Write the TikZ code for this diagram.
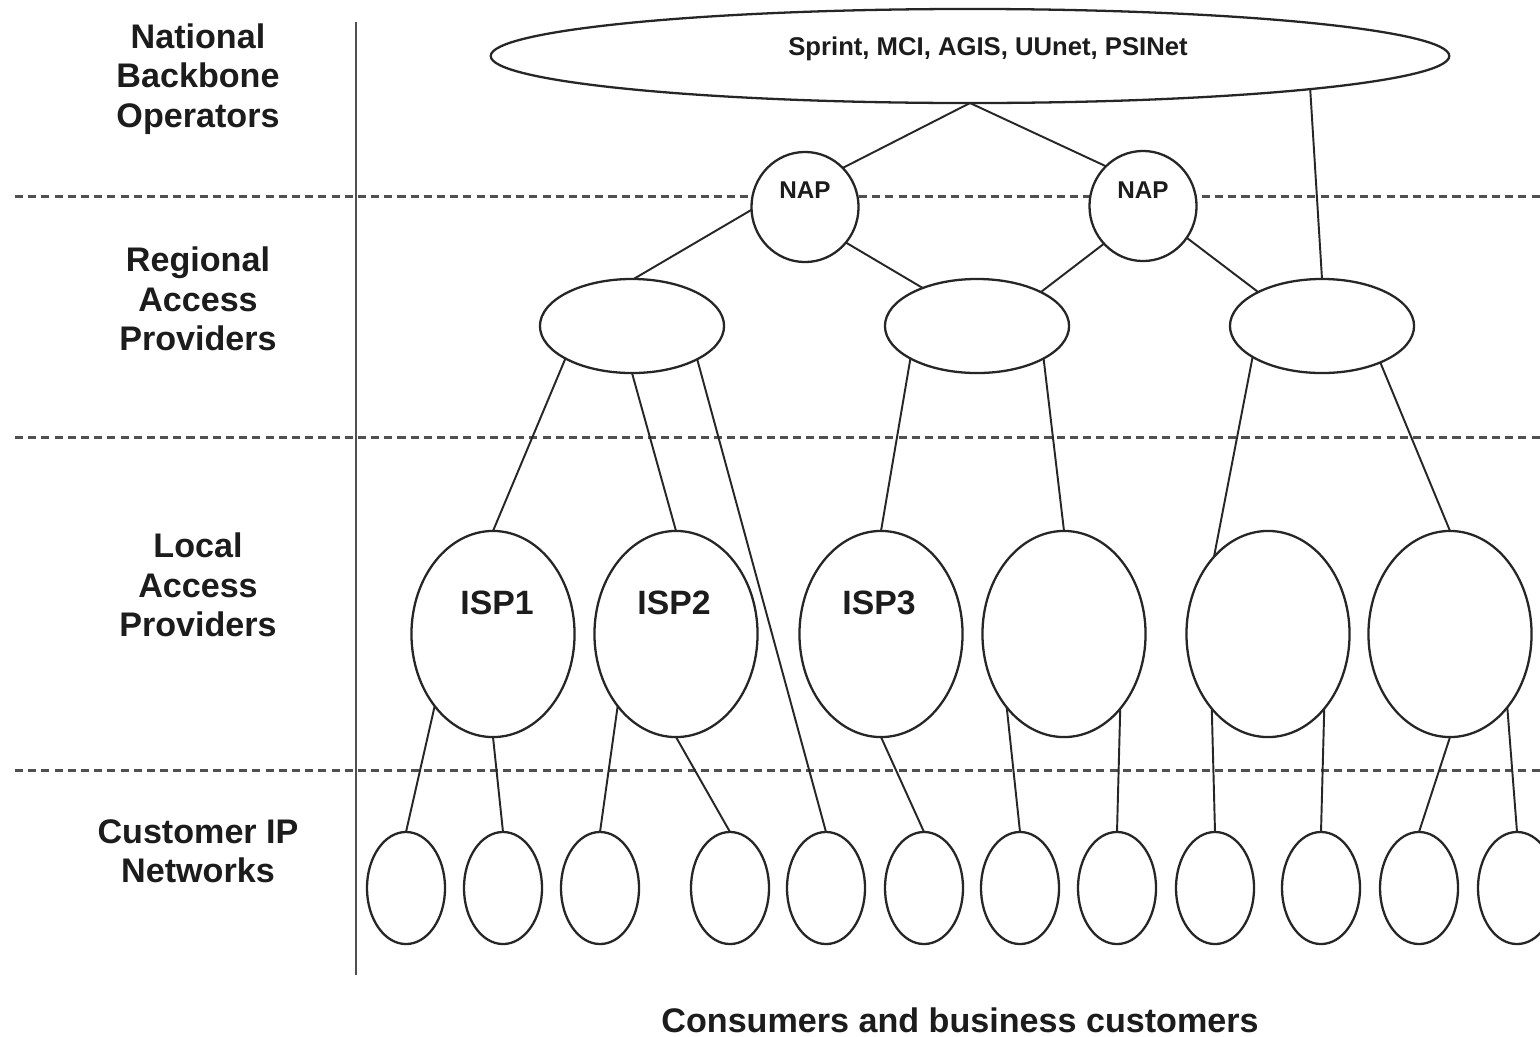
\documentclass[tikz,border=0pt]{standalone}
\usepackage{fontspec}
\setmainfont{Liberation Sans}
\usetikzlibrary{shapes.geometric}

\definecolor{ink}{HTML}{262626}
\definecolor{rulegray}{HTML}{505050}
\definecolor{txt}{HTML}{1C1C1C}

\begin{document}
\begin{tikzpicture}[x=0.01cm, y=-0.01cm,
  every node/.style={inner sep=0pt, outer sep=0pt},
  oval/.style 2 args={ellipse, draw=ink, fill=white, line width=0.65pt,
    minimum width=#1, minimum height=#2},
  backbone/.style={oval={9.58cm}{0.94cm}},
  napnode/.style={oval={1.07cm}{1.10cm}},
  regional/.style={oval={1.84cm}{0.94cm}},
  localisp/.style={oval={1.63cm}{2.06cm}},
  customer/.style={oval={0.78cm}{1.12cm}},
  link/.style={draw=ink, line width=0.55pt},
  tierline/.style={draw=rulegray, line width=0.85pt, dash pattern=on 2.3pt off 1.45pt},
  tierlabel/.style={text=txt, align=center,
    font=\bfseries\fontsize{9.7}{11.2}\selectfont},
  isplabel/.style={text=txt, font=\bfseries\fontsize{9.6}{11}\selectfont},
  naplabel/.style={text=txt, font=\bfseries\fontsize{6.9}{8}\selectfont},
]
% canvas
\fill[white] (0,0) rectangle (1540,1036);
\useasboundingbox (0,0) rectangle (1540,1036);

% tier separators and the label column rule
\coordinate (d1l) at (15,196);  \coordinate (d1r) at (1540,196);
\coordinate (d2l) at (15,437);  \coordinate (d2r) at (1540,437);
\coordinate (d3l) at (15,770);  \coordinate (d3r) at (1540,770);
\draw[tierline] (d1l) -- (d1r);
\draw[tierline] (d2l) -- (d2r);
\draw[tierline] (d3l) -- (d3r);
\coordinate (vt) at (356,22); \coordinate (vb) at (356,975);
\draw[draw=rulegray, line width=0.8pt] (vt) -- (vb);

% tier labels
\node[tierlabel] (lnat) at (198,79) {National\\Backbone\\Operators};
\node[tierlabel] (lreg) at (198,299) {Regional\\Access\\Providers};
\node[tierlabel] (lloc) at (198,585) {Local\\Access\\Providers};
\node[tierlabel] (lcus) at (198,851) {Customer IP\\Networks};
\node[tierlabel] (lcons) at (960,1020) {Consumers and business customers};

% backbone
\node[backbone] (bb) at (970,56) {};
\node[text=txt, font=\bfseries\fontsize{7.3}{8.5}\selectfont] (bbtxt) at (988,49)
  {Sprint, MCI, AGIS, UUnet, PSINet};
% point on the lower right rim of the backbone ellipse
\coordinate (bbtap) at ([xshift=3.40cm, yshift=-0.331cm]bb.center);

% network access points
\node[napnode] (nap1) at (805,207) {};
\node[napnode] (nap2) at (1143,206) {};
\node[naplabel] (nap1t) at (805,190) {NAP};
\node[naplabel] (nap2t) at (1143,190) {NAP};

% regional access providers
\node[regional] (r1) at (632,326) {};
\node[regional] (r2) at (977,326) {};
\node[regional] (r3) at (1322,326) {};

% local access providers
\node[localisp] (isp1) at (493,634) {};
\node[localisp] (isp2) at (676,634) {};
\node[localisp] (isp3) at (881,634) {};
\node[localisp] (l4) at (1064,634) {};
\node[localisp] (l5) at (1268,634) {};
\node[localisp] (l6) at (1450,634) {};
\node[isplabel] (isp1t) at (497,603) {ISP1};
\node[isplabel] (isp2t) at (674,603) {ISP2};
\node[isplabel] (isp3t) at (879,603) {ISP3};

% customer networks
\foreach \i/\x in {1/406,2/503,3/600,4/730,5/826,6/924,7/1020,8/1117,9/1215,10/1321,11/1419,12/1517}
  \node[customer] (c\i) at (\x,888) {};

% backbone to NAPs and direct regional link
\draw[link] (bb.south) -- (nap1.46);
\draw[link] (bb.south) -- (nap2.133);
\draw[link] (bbtap) -- (r3.north);

% NAPs to regional providers
\draw[link] (nap1.183) -- (r1.88);
\draw[link] (nap1.-41) -- (r2.145);
\draw[link] (nap2.224) -- (r2.28);
\draw[link] (nap2.-36) -- (r3.152);

% regional to local providers
\draw[link] (r1.206) -- (isp1.north);
\draw[link] (r1.south) -- (isp2.north);
\draw[link] (r1.-27) -- (c5.north);
\draw[link] (r2.206) -- (isp3.north);
\draw[link] (r2.-26) -- (l4.north);
\draw[link] (r3.204) -- (l5.125);
\draw[link] (r3.-32) -- (l6.north);

% local providers to customers
\draw[link] (isp1.231) -- (c1.north);
\draw[link] (isp1.south) -- (c2.north);
\draw[link] (isp2.231) -- (c3.north);
\draw[link] (isp2.south) -- (c4.north);
\draw[link] (isp3.south) -- (c6.north);
\draw[link] (l4.232) -- (c7.north);
\draw[link] (l4.307) -- (c8.north);
\draw[link] (l5.233) -- (c9.north);
\draw[link] (l5.307) -- (c10.north);
\draw[link] (l6.south) -- (c11.north);
\draw[link] (l6.308) -- (c12.north);
\end{tikzpicture}
\end{document}
